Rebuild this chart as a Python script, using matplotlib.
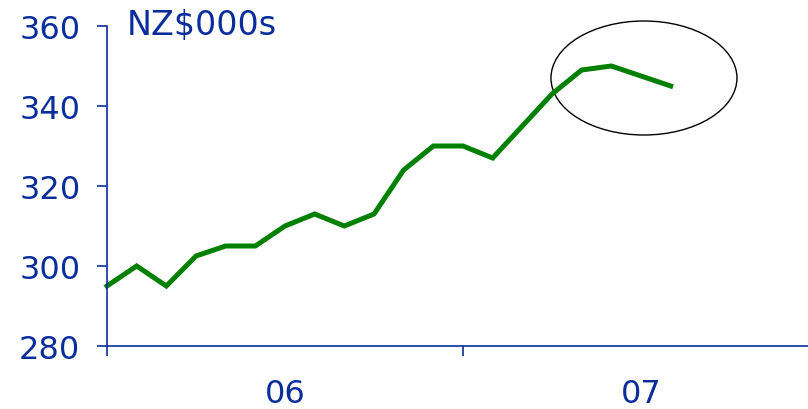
import matplotlib.pyplot as plt
from matplotlib.patches import Ellipse

# monthly house price series, Jan 06 onwards
months = list(range(20))
values = [295, 300, 295, 302.5, 305, 305, 310, 313, 310, 313,
          324, 330, 330, 327, 335, 343, 349, 350, 347.5, 345]
year_ticks = [0, 12, 24]
year_label_pos = [6, 18]
year_labels = ["06", "07"]
y_ticks = [280, 300, 320, 340, 360]

BLUE = "#0a2d9c"
GREEN = "#008000"

fig = plt.figure(figsize=(8.08, 4.10), dpi=100)
ax = fig.add_axes([107 / 808, 63 / 410, 1 - 107 / 808, 320 / 410])

ax.plot(months, values, color=GREEN, linewidth=3.6, solid_joinstyle="miter", clip_on=False)

# circle round the latest months
ax.add_patch(Ellipse((18.1, 347), 6.27, 28.5, fill=False, edgecolor="black",
                     linewidth=1.0, clip_on=False))

for side in ("top", "right"):
    ax.spines[side].set_visible(False)
for side in ("left", "bottom"):
    ax.spines[side].set_color(BLUE)
    ax.spines[side].set_linewidth(1.2)

ax.set_yticks(y_ticks)
ax.tick_params(axis="y", direction="out", length=7.2, width=1.2, color=BLUE,
               labelcolor=BLUE, labelsize=23, pad=12)

ax.set_xticks(year_ticks)
ax.set_xticklabels([])
ax.set_xticks(year_label_pos, minor=True)
ax.set_xticklabels(year_labels, minor=True)
ax.tick_params(axis="x", which="major", direction="out", length=7.2, width=1.2, color=BLUE)
ax.tick_params(axis="x", which="minor", length=0, labelcolor=BLUE, labelsize=23, pad=23)

# axis runs off the right edge of the picture
ax.set_xlim(0, 701 / (356 / 12))
ax.set_ylim(280, 360)

fig.text(127 / 808, 1 - 25 / 410, "NZ$000s", fontsize=24, color=BLUE, va="center", ha="left")

fig.savefig("out.png", dpi=100)
